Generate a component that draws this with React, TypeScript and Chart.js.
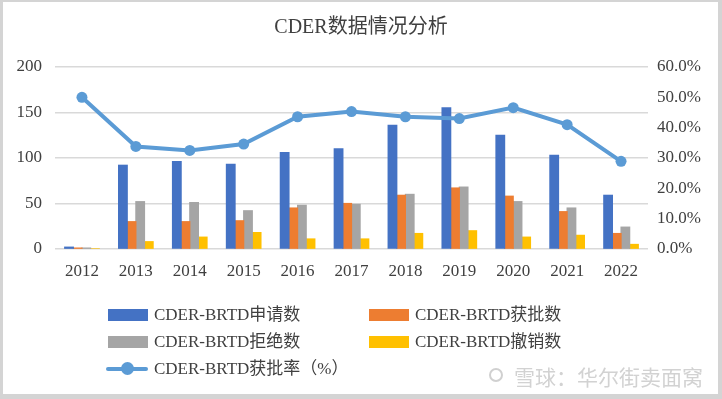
import React, { useEffect, useRef } from "react";
import { Chart, registerables } from "chart.js";

Chart.register(...registerables);

const years = ["2012", "2013", "2014", "2015", "2016", "2017", "2018", "2019", "2020", "2021", "2022"];
const applied = [2, 92, 96, 93, 106, 110, 136, 155, 125, 103, 59];
const approved = [1, 30, 30, 31, 45, 50, 59, 67, 58, 41, 17];
const rejected = [1, 52, 51, 42, 48, 49, 60, 68, 52, 45, 24];
const withdrawn = [0, 8, 13, 18, 11, 11, 17, 20, 13, 15, 5];
const approvalRate = [50.0, 33.8, 32.5, 34.6, 43.6, 45.3, 43.6, 43.0, 46.6, 41.0, 28.9];

const seriesNames = ["CDER-BRTD申请数", "CDER-BRTD获批数", "CDER-BRTD拒绝数", "CDER-BRTD撤销数", "CDER-BRTD获批率（%）"];
const title = "CDER数据情况分析";
const watermark = "雪球：华尔街卖面窝";

const colors = ["#4472C4", "#ED7D31", "#A5A5A5", "#FFC000", "#5B9BD5"];
const FONT = '"Liberation Serif", "Times New Roman", "Noto Sans CJK SC", serif';
const TEXT = "#404040";

export default function App() {
  const ref = useRef<HTMLCanvasElement | null>(null);
  useEffect(() => {
    if (!ref.current) return;
    const barDs = (label: string, data: number[], color: string) => ({
      type: "bar" as const,
      label,
      data,
      backgroundColor: color,
      borderWidth: 0,
      inflateAmount: 0.6,
      yAxisID: "y",
      barPercentage: 1,
      categoryPercentage: 0.64,
      order: 1,
    });
    const chart = new Chart(ref.current, {
      type: "bar",
      data: {
        labels: years,
        datasets: [
          barDs(seriesNames[0], applied, colors[0]),
          barDs(seriesNames[1], approved, colors[1]),
          barDs(seriesNames[2], rejected, colors[2]),
          barDs(seriesNames[3], withdrawn, colors[3]),
          {
            type: "line" as const,
            label: seriesNames[4],
            data: approvalRate,
            borderColor: colors[4],
            backgroundColor: colors[4],
            borderWidth: 4,
            pointRadius: 5.5,
            pointBorderWidth: 0,
            pointBackgroundColor: colors[4],
            yAxisID: "y1",
            order: 0,
            tension: 0,
          } as any,
        ],
      },
      options: {
        animation: false,
        responsive: false,
        maintainAspectRatio: false,
        layout: { padding: { top: 0, bottom: 110, left: 0, right: 0 } },
        plugins: {
          legend: { display: false },
          tooltip: { enabled: false },
          title: {
            display: true,
            text: title,
            color: "#404040",
            font: { family: FONT, size: 20, weight: "normal" },
            padding: { top: 16, bottom: 27 },
          },
        },
        scales: {
          x: {
            offset: true,
            grid: { display: false, drawTicks: false },
            border: { display: false },
            ticks: { color: TEXT, font: { family: FONT, size: 17 }, padding: 12, maxRotation: 0 },
            afterFit: (a: any) => { a.height = 40; },
          },
          y: {
            position: "left",
            min: 0,
            max: 200,
            ticks: { stepSize: 50, color: TEXT, font: { family: FONT, size: 17 }, padding: 13 },
            grid: { color: "#D9D9D9", lineWidth: 1.5, drawTicks: false },
            border: { display: false },
            afterFit: (a: any) => { a.width = 55; },
          },
          y1: {
            position: "right",
            min: 0,
            max: 60,
            ticks: {
              stepSize: 10,
              color: TEXT,
              font: { family: FONT, size: 17 },
              padding: 9,
              callback: (v: any) => Number(v).toFixed(1) + "%",
            },
            grid: { display: false, drawTicks: false },
            border: { display: false },
            afterFit: (a: any) => { a.width = 74; },
          },
        },
      },
    });
    return () => chart.destroy();
  }, []);

  const legendText: React.CSSProperties = {
    position: "absolute",
    fontFamily: FONT,
    fontSize: 17,
    color: TEXT,
    lineHeight: "20px",
    whiteSpace: "nowrap",
  };
  const box = (left: number, cy: number, color: string) => (
    <div style={{ position: "absolute", left, top: cy - 6, width: 40, height: 12, background: color }} />
  );
  const txt = (left: number, cy: number, s: string) => (
    <div style={{ ...legendText, left, top: cy - 10 }}>{s}</div>
  );

  return (
    <div
      style={{
        position: "fixed",
        left: 0,
        top: 0,
        width: 722,
        height: 399,
        background: "#fff",
        overflow: "hidden",
      }}
    >
      <canvas ref={ref} width={722} height={399} style={{ position: "absolute", left: 0, top: 0 }} />
      {box(108, 315, colors[0])}
      {txt(154, 315, seriesNames[0])}
      {box(369, 315, colors[1])}
      {txt(415, 315, seriesNames[1])}
      {box(108, 342, colors[2])}
      {txt(154, 342, seriesNames[2])}
      {box(369, 342, colors[3])}
      {txt(415, 342, seriesNames[3])}
      <div style={{ position: "absolute", left: 106, top: 367, width: 42, height: 4, background: colors[4], borderRadius: 2 }} />
      <div style={{ position: "absolute", left: 121, top: 362, width: 13, height: 13, borderRadius: "50%", background: colors[4] }} />
      {txt(154, 369, seriesNames[4])}
      <div
        style={{
          position: "absolute",
          left: 489,
          top: 368,
          width: 14,
          height: 14,
          borderRadius: "50%",
          border: "2px solid #d0d0d0",
          boxSizing: "border-box",
        }}
      />
      <div
        style={{
          position: "absolute",
          left: 514,
          top: 364,
          fontFamily: '"Noto Sans CJK SC", sans-serif',
          fontSize: 21,
          lineHeight: "24px",
          color: "#d2d2d2",
          whiteSpace: "nowrap",
        }}
      >
        {watermark}
      </div>
      <div
        style={{
          position: "absolute",
          left: 0,
          top: 0,
          width: 722,
          height: 399,
          boxSizing: "border-box",
          borderTop: "2px solid #d4d4d4",
          borderLeft: "3px solid #d4d4d4",
          borderRight: "4px solid #d4d4d4",
          borderBottom: "5px solid #d4d4d4",
          pointerEvents: "none",
        }}
      />
    </div>
  );
}
